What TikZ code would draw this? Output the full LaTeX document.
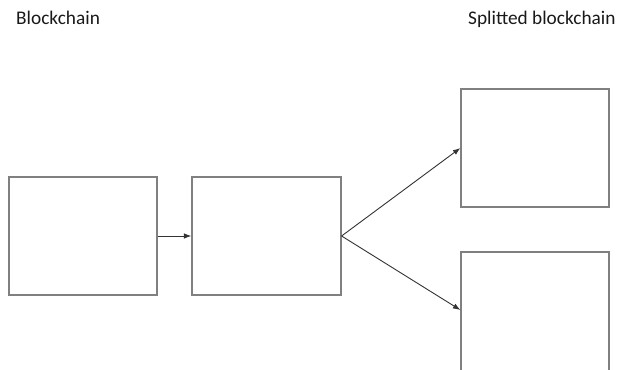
\documentclass[tikz,border=0pt]{standalone}
\usepackage{fontspec}
\setmainfont{Carlito}
\usetikzlibrary{arrows.meta}
\begin{document}
\begin{tikzpicture}[x=1pt,y=-1pt,
  chainbox/.style={draw=black!50,line width=1.2pt,fill=white,rectangle,
    minimum width=148pt,minimum height=118pt,inner sep=0pt},
  link/.style={draw=black!80,line width=0.9pt,-{Latex[length=7.5pt,width=5.5pt]}},
  caption/.style={font=\fontsize{19.3}{22}\selectfont,text=black!90,inner sep=0pt,anchor=base west}]
\useasboundingbox (0,0) rectangle (617,369);
\clip (0,0) rectangle (617,369);
% captions
\node[caption] (left) at (16,25) {Blockchain};
\node[caption] (right) at (468,25) {Splitted blockchain};
% main chain
\node[chainbox] (b1) at (83,236) {};
\node[chainbox,minimum width=149pt] (b2) at (266.5,236) {};
% the two branches after the split; the lower one runs past the bottom edge
\node[chainbox] (b3) at (535,148) {};
\node[chainbox,minimum height=130pt] (b4) at (535,317) {};
% connectors
\draw[link] (b1.east) -- (b2.west);
\draw[link] (b2.east) -- (b3.west);
\draw[link] (b2.east) -- ([yshift=7pt]b4.west);
\end{tikzpicture}
\end{document}
